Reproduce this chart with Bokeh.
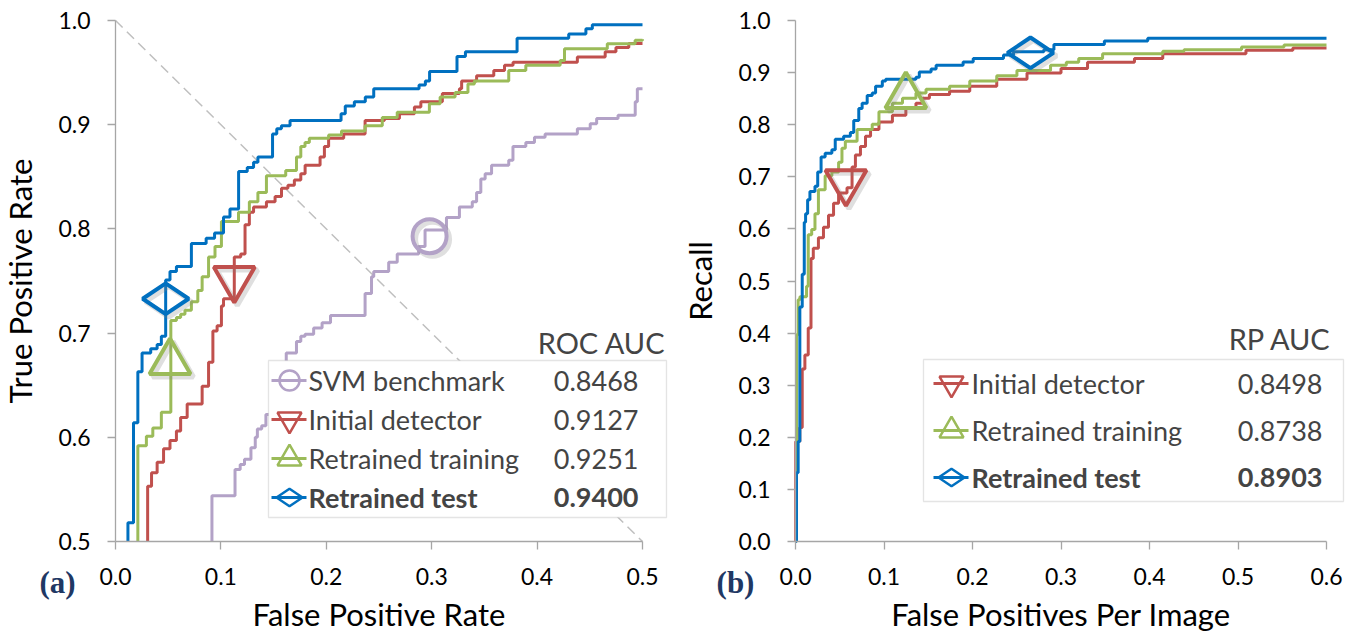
from bokeh.plotting import figure
from bokeh.models import Range1d, Label, BoxAnnotation, FixedTicker, PrintfTickFormatter
from bokeh.layouts import row
from bokeh.embed import file_html
from bokeh.resources import INLINE

# ---------------- data: ROC (left) -- curves start where they enter the visible y range (0.5) ----------------
roc_svm_x = [0.0915, 0.0915, 0.1134, 0.1183, 0.1224, 0.1285, 0.1326, 0.1346, 0.1387, 0.1427, 0.150, 0.156, 0.162,
             0.1717, 0.1758, 0.1798, 0.188, 0.196, 0.204, 0.2368, 0.2429, 0.245, 0.2592, 0.2673, 0.2876,
             0.2937, 0.314, 0.3263, 0.3385, 0.3426, 0.3466, 0.3507, 0.3568, 0.3731, 0.3771, 0.3893, 0.3975,
             0.4076, 0.4382, 0.4504, 0.4565, 0.4768, 0.4931, 0.4951, 0.5]
roc_svm_y = [0.5, 0.544, 0.569, 0.574, 0.579, 0.590, 0.600, 0.608, 0.611, 0.622, 0.635, 0.650, 0.681,
             0.692, 0.697, 0.699, 0.705, 0.710, 0.717, 0.738, 0.754, 0.759, 0.768, 0.776, 0.783,
             0.799, 0.811, 0.821, 0.826, 0.835, 0.848, 0.853, 0.861, 0.866, 0.879, 0.883, 0.888,
             0.891, 0.896, 0.901, 0.906, 0.909, 0.922, 0.9345, 0.9345]

roc_init_x = [0.0305, 0.0305, 0.0342, 0.0395, 0.0456, 0.0517, 0.0578, 0.0618, 0.068, 0.0822, 0.0883, 0.0924, 0.0964,
              0.1005, 0.1025, 0.1127, 0.1188, 0.1229, 0.127, 0.131, 0.1432, 0.1514, 0.1575, 0.1636, 0.1697,
              0.1758, 0.1799, 0.1941, 0.1982, 0.2022, 0.2165, 0.2368, 0.2551, 0.2694, 0.2836, 0.2897, 0.3101,
              0.3263, 0.3284, 0.3426, 0.3589, 0.3691, 0.3772, 0.4382, 0.4646, 0.4748, 0.487, 0.5]
roc_init_y = [0.5, 0.553, 0.566, 0.576, 0.589, 0.597, 0.606, 0.619, 0.632, 0.649, 0.672, 0.702, 0.707,
              0.726, 0.733, 0.773, 0.776, 0.804, 0.816, 0.821, 0.826, 0.831, 0.839, 0.842, 0.847,
              0.853, 0.861, 0.869, 0.879, 0.887, 0.891, 0.904, 0.906, 0.9105, 0.917, 0.922, 0.930,
              0.9345, 0.942, 0.947, 0.952, 0.957, 0.960, 0.965, 0.970, 0.974, 0.978, 0.978]

roc_train_x = [0.0212, 0.0212, 0.0293, 0.0354, 0.0435, 0.0525, 0.0578, 0.0618, 0.0659, 0.072, 0.0781, 0.0822, 0.0883,
               0.0944, 0.1005, 0.1167, 0.127, 0.1351, 0.1432, 0.1615, 0.1717, 0.1758, 0.1798, 0.1839, 0.2022,
               0.2144, 0.2368, 0.2531, 0.2673, 0.2978, 0.308, 0.3222, 0.3344, 0.3405, 0.3731, 0.3893, 0.4219,
               0.426, 0.4666, 0.493, 0.5]
roc_train_y = [0.5, 0.592, 0.601, 0.609, 0.624, 0.712, 0.715, 0.718, 0.722, 0.730, 0.741, 0.754, 0.773,
               0.783, 0.807, 0.816, 0.826, 0.835, 0.851, 0.856, 0.869, 0.879, 0.883, 0.887, 0.890,
               0.894, 0.899, 0.907, 0.912, 0.920, 0.9265, 0.931, 0.939, 0.942, 0.952, 0.957, 0.9617,
               0.973, 0.9776, 0.981, 0.982]

roc_test_x = [0.0118, 0.0118, 0.0171, 0.0212, 0.0252, 0.0334, 0.0395, 0.0435, 0.0476, 0.0517, 0.0578, 0.072, 0.086,
              0.094, 0.1025, 0.1086, 0.1168, 0.125, 0.131, 0.1351, 0.149, 0.153, 0.1574, 0.1656, 0.214,
              0.218, 0.2266, 0.237, 0.245, 0.288, 0.294, 0.298, 0.324, 0.332, 0.381, 0.430, 0.4463, 0.4524, 0.5]
roc_test_y = [0.5, 0.518, 0.614, 0.663, 0.681, 0.685, 0.689, 0.697, 0.751, 0.759, 0.764, 0.786, 0.791,
              0.796, 0.8115, 0.819, 0.855, 0.859, 0.864, 0.869, 0.891, 0.896, 0.899, 0.904, 0.9105,
              0.918, 0.922, 0.9265, 0.9345, 0.938, 0.942, 0.951, 0.9655, 0.970, 0.983, 0.987, 0.992, 0.996, 0.996]

# operating points marked on the ROC curves: SVM, initial, retrained training, retrained test
roc_mark_x = [0.298, 0.1127, 0.0517, 0.0476]
roc_mark_y = [0.793, 0.752, 0.672, 0.733]

# ---------------- data: recall vs FPPI (right) ----------------
rp_init_x = [0, 0.0003, 0.0049, 0.0076, 0.0106, 0.0144, 0.0175, 0.0201, 0.0259, 0.0316, 0.0373, 0.043, 0.0487,
             0.0582, 0.0639, 0.0677, 0.0734, 0.0791, 0.0848, 0.0943, 0.1095, 0.1247, 0.1361, 0.1437, 0.1513,
             0.1741, 0.1969, 0.2274, 0.2616, 0.300, 0.330, 0.383, 0.415, 0.509, 0.562, 0.6]
rp_init_y = [0, 0.192, 0.219, 0.331, 0.358, 0.41, 0.543, 0.563, 0.583, 0.603, 0.626, 0.649, 0.669,
             0.679, 0.719, 0.742, 0.758, 0.778, 0.791, 0.805, 0.818, 0.831, 0.841, 0.851, 0.858,
             0.864, 0.874, 0.887, 0.899, 0.908, 0.920, 0.927, 0.936, 0.943, 0.947, 0.947]

rp_train_x = [0, 0.0011, 0.003, 0.005, 0.0125, 0.0144, 0.0183, 0.022, 0.0259, 0.0335, 0.0411, 0.0487, 0.0525,
              0.0563, 0.0696, 0.0867, 0.0943, 0.1095, 0.1209, 0.1361, 0.1475, 0.1741, 0.1969, 0.2274, 0.2502,
              0.2882, 0.306, 0.32, 0.347, 0.415, 0.439, 0.504, 0.552, 0.6]
rp_train_y = [0, 0.397, 0.464, 0.470, 0.49, 0.589, 0.599, 0.629, 0.675, 0.702, 0.709, 0.728, 0.755,
              0.768, 0.791, 0.801, 0.825, 0.841, 0.851, 0.861, 0.868, 0.874, 0.884, 0.894, 0.904,
              0.914, 0.920, 0.927, 0.936, 0.941, 0.944, 0.949, 0.953, 0.953]

rp_test_x = [0, 0.0011, 0.003, 0.0049, 0.0076, 0.0099, 0.0114, 0.0137, 0.0163, 0.022, 0.0251, 0.0289, 0.0335,
             0.0411, 0.0449, 0.0544, 0.062, 0.0658, 0.0715, 0.0753, 0.081, 0.0867, 0.0905, 0.0981, 0.1019,
             0.1361, 0.1399, 0.1532, 0.1589, 0.1894, 0.2008, 0.235, 0.2464, 0.2806, 0.292, 0.349, 0.398, 0.6]
rp_test_y = [0, 0.132, 0.192, 0.450, 0.513, 0.613, 0.629, 0.656, 0.672, 0.682, 0.709, 0.738, 0.745,
             0.752, 0.772, 0.778, 0.785, 0.808, 0.831, 0.841, 0.856, 0.861, 0.874, 0.884, 0.887,
             0.891, 0.901, 0.907, 0.914, 0.9205, 0.927, 0.934, 0.940, 0.944, 0.954, 0.9605, 0.966, 0.966]

rp_mark_x = [0.057, 0.1247, 0.2655]
rp_mark_y = [0.690, 0.855, 0.938]

roc_names = ["SVM benchmark", "Initial detector", "Retrained training", "Retrained test"]
roc_auc = ["0.8468", "0.9127", "0.9251", "0.9400"]
rp_names = ["Initial detector", "Retrained training", "Retrained test"]
rp_auc = ["0.8498", "0.8738", "0.8903"]

x_ticks_roc = [0.0, 0.1, 0.2, 0.3, 0.4, 0.5]
y_ticks_roc = [0.5, 0.6, 0.7, 0.8, 0.9, 1.0]
x_ticks_rp = [0.0, 0.1, 0.2, 0.3, 0.4, 0.5, 0.6]
y_ticks_rp = [0.0, 0.1, 0.2, 0.3, 0.4, 0.5, 0.6, 0.7, 0.8, 0.9, 1.0]

# ---------------- styling ----------------
PURPLE = "#B3A2C7"
RED = "#C0504D"
GREEN = "#9BBB59"
BLUE = "#0070C0"
AXIS = "#A6A6A6"
FONT = "Lato"
SHADOW = "#7F7F7F"
PANEL = "#1F3864"
LEG_FS = "27px"
HEAD_FS = "29px"
H = 635


def style(p, xt, yt, xb, yb, xloc, yloc, xlabel, ylabel):
    p.xgrid.visible = False
    p.ygrid.visible = False
    p.outline_line_color = None
    p.background_fill_color = "white"
    p.border_fill_color = "white"
    for ax, ticks, b, loc in ((p.xaxis[0], xt, xb, xloc), (p.yaxis[0], yt, yb, yloc)):
        ax.fixed_location = loc
        ax.bounds = b
        ax.ticker = FixedTicker(ticks=ticks)
        ax.formatter = PrintfTickFormatter(format="%.1f")
        ax.axis_line_color = AXIS
        ax.axis_line_width = 1.3
        ax.major_tick_line_color = AXIS
        ax.major_tick_line_width = 1.3
        ax.major_tick_out = 8
        ax.major_tick_in = 0
        ax.minor_tick_line_color = None
        ax.major_label_text_font = FONT
        ax.major_label_text_font_size = "23px"
        ax.major_label_text_color = "black"
        ax.axis_label_text_font = FONT
        ax.axis_label_text_font_size = "31px"
        ax.axis_label_text_font_style = "normal"
        ax.axis_label_text_color = "black"
    p.xaxis[0].axis_label = xlabel
    p.yaxis[0].axis_label = ylabel
    p.xaxis[0].major_label_standoff = 18
    p.xaxis[0].axis_label_standoff = 7
    p.yaxis[0].major_label_standoff = 17
    p.yaxis[0].axis_label_standoff = 16


# ======== left: ROC ========
W1 = 680
LX0, LPX = 115, 1054.0     # pixel of x=0, pixels per unit
LY1, LPY = 20, 1042.0      # pixel of y=1.0, pixels per unit
p1 = figure(width=W1, height=H, min_border=0,
            x_range=Range1d(-LX0 / LPX, (W1 - LX0) / LPX),
            y_range=Range1d(1.0 - (H - LY1) / LPY, 1.0 + LY1 / LPY),
            output_backend="svg", toolbar_location=None)
style(p1, x_ticks_roc, y_ticks_roc, (0, 0.5), (0.5, 1.0), 0.5, 0.0, "False Positive Rate", "True Positive Rate")


def X1(px):
    return (px - LX0) / LPX


def Y1(py):
    return 1.0 - (py - LY1) / LPY


p1.line([0, 0.5], [1.0, 0.5], line_color="#BFBFBF", line_width=1.5, line_dash="10 6")
colors_roc = [PURPLE, RED, GREEN, BLUE]
markers_roc = ["circle", "inverted_triangle", "triangle", "diamond"]
sizes_roc = [34, 41, 41, 46]
angles_roc = [0, 0, 0, 1.5708]
for xs, ys, c in ((roc_svm_x, roc_svm_y, PURPLE), (roc_init_x, roc_init_y, RED),
                  (roc_train_x, roc_train_y, GREEN), (roc_test_x, roc_test_y, BLUE)):
    p1.step(xs, ys, mode="after", line_color=c, line_width=3)
dx1, dy1 = 3 / LPX, 3 / LPY
for i in range(4):
    p1.scatter([roc_mark_x[i] + dx1], [roc_mark_y[i] - dy1], marker=markers_roc[i], size=sizes_roc[i],
               angle=angles_roc[i], fill_alpha=0, line_color=SHADOW, line_alpha=0.25, line_width=5)
    p1.scatter([roc_mark_x[i]], [roc_mark_y[i]], marker=markers_roc[i], size=sizes_roc[i], angle=angles_roc[i],
               fill_alpha=0, line_color=colors_roc[i], line_width=4)

# legend
p1.add_layout(BoxAnnotation(left=X1(268), right=X1(666), top=Y1(360), bottom=Y1(517), fill_color="white",
                            fill_alpha=1, line_color=AXIS, line_width=1.3))
rows1 = [380, 419, 458, 497]
for i in range(4):
    yy = Y1(rows1[i])
    r = p1.line([X1(271), X1(306)], [yy, yy], line_color=colors_roc[i], line_width=3)
    r.level = "overlay"
    r = p1.scatter([X1(289)], [yy], marker=markers_roc[i], size=[20, 24, 24, 26][i], angle=angles_roc[i],
                   fill_alpha=0, line_color=colors_roc[i], line_width=2.5)
    r.level = "overlay"
    bold = "bold" if i == 3 else "normal"
    p1.add_layout(Label(x=X1(308), y=yy, text=roc_names[i], text_font=FONT, text_font_size=LEG_FS,
                        text_font_style=bold, text_baseline="middle", text_align="left", level="overlay"))
    p1.add_layout(Label(x=X1(638), y=yy, text=roc_auc[i], text_font=FONT, text_font_size=LEG_FS,
                        text_font_style=bold, text_baseline="middle", text_align="right", level="overlay"))
p1.add_layout(Label(x=X1(665), y=Y1(342), text="ROC AUC", text_font=FONT, text_font_size=HEAD_FS,
                    text_baseline="middle", text_align="right"))
p1.add_layout(Label(x=X1(57), y=Y1(582), text="(a)", text_font="Liberation Serif", text_font_size="31px",
                    text_font_style="bold", text_color=PANEL, text_baseline="middle", text_align="center"))

# ======== right: recall vs FPPI ========
W2 = 1346 - W1
RX0, RPX = 795 - W1, 885.0
RY0, RPY = 541, 521.0      # pixel of y=0, pixels per unit
p2 = figure(width=W2, height=H, min_border=0,
            x_range=Range1d(-RX0 / RPX, (W2 - RX0) / RPX),
            y_range=Range1d(-(H - RY0) / RPY, RY0 / RPY),
            output_backend="svg", toolbar_location=None)
style(p2, x_ticks_rp, y_ticks_rp, (0, 0.6), (0, 1.0), 0.0, 0.0, "False Positives Per Image", "Recall")


def X2(px):
    return (px - W1 - RX0) / RPX


def Y2(py):
    return (RY0 - py) / RPY


colors_rp = [RED, GREEN, BLUE]
markers_rp = ["inverted_triangle", "triangle", "diamond"]
sizes_rp = [41, 41, 46]
angles_rp = [0, 0, 1.5708]
for xs, ys, c in ((rp_init_x, rp_init_y, RED), (rp_train_x, rp_train_y, GREEN), (rp_test_x, rp_test_y, BLUE)):
    p2.step(xs, ys, mode="after", line_color=c, line_width=3)
dx2, dy2 = 3 / RPX, 3 / RPY
for i in range(3):
    p2.scatter([rp_mark_x[i] + dx2], [rp_mark_y[i] - dy2], marker=markers_rp[i], size=sizes_rp[i],
               angle=angles_rp[i], fill_alpha=0, line_color=SHADOW, line_alpha=0.25, line_width=5)
    p2.scatter([rp_mark_x[i]], [rp_mark_y[i]], marker=markers_rp[i], size=sizes_rp[i], angle=angles_rp[i],
               fill_alpha=0, line_color=colors_rp[i], line_width=4)

p2.add_layout(BoxAnnotation(left=X2(923), right=X2(1343), top=Y2(359), bottom=Y2(501), fill_color="white",
                            fill_alpha=1, line_color=AXIS, line_width=1.3))
rows2 = [383, 430, 477]
for i in range(3):
    yy = Y2(rows2[i])
    r = p2.line([X2(933), X2(968)], [yy, yy], line_color=colors_rp[i], line_width=3)
    r.level = "overlay"
    r = p2.scatter([X2(951)], [yy], marker=markers_rp[i], size=[24, 24, 26][i], angle=angles_rp[i],
                   fill_alpha=0, line_color=colors_rp[i], line_width=2.5)
    r.level = "overlay"
    bold = "bold" if i == 2 else "normal"
    p2.add_layout(Label(x=X2(971), y=yy, text=rp_names[i], text_font=FONT, text_font_size=LEG_FS,
                        text_font_style=bold, text_baseline="middle", text_align="left", level="overlay"))
    p2.add_layout(Label(x=X2(1322), y=yy, text=rp_auc[i], text_font=FONT, text_font_size=LEG_FS,
                        text_font_style=bold, text_baseline="middle", text_align="right", level="overlay"))
p2.add_layout(Label(x=X2(1331), y=Y2(338), text="RP AUC", text_font=FONT, text_font_size=HEAD_FS,
                    text_baseline="middle", text_align="right"))
p2.add_layout(Label(x=X2(735), y=Y2(582), text="(b)", text_font="Liberation Serif", text_font_size="31px",
                    text_font_style="bold", text_color=PANEL, text_baseline="middle", text_align="center"))

layout = row(p1, p2)
open("out.html", "w").write(file_html(layout, INLINE))
